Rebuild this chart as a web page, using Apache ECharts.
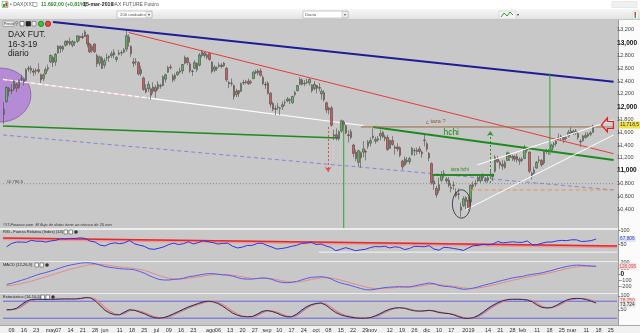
<!DOCTYPE html>
<html><head><meta charset="utf-8">
<script src="https://cdn.jsdelivr.net/npm/echarts@6/dist/echarts.min.js"></script>
<style>
html,body{margin:0;padding:0;width:640px;height:333px;overflow:hidden;background:#fff}
.a{position:absolute;box-sizing:border-box}
</style></head><body>
<div class="a" style="left:0;top:0;width:640px;height:9px;background:#fff"></div>
<div class="a" style="left:0;top:9px;width:640px;height:11px;background:linear-gradient(#f7f7f7,#e3e3e3);border-bottom:1px solid #c4c4c4"></div>
<div class="a" style="left:0;top:20px;width:618px;height:305px;background:#c8c8c8"></div>
<div class="a" style="left:618px;top:20px;width:22px;height:305px;background:#fbfbfb;border-left:1px solid #9c9c9c"></div>
<div class="a" style="left:0;top:325px;width:640px;height:8px;background:#f1f1f1;border-top:1px solid #a8a8a8"></div>
<div class="a" style="left:0;top:228px;width:618px;height:1.5px;background:#ececec"></div>
<div class="a" style="left:0;top:260.5px;width:618px;height:1.5px;background:#ececec"></div>
<div class="a" style="left:0;top:292.5px;width:618px;height:1.5px;background:#ececec"></div>
<div id="c" class="a" style="left:0;top:0;width:640px;height:333px"></div>
<script>
// ---- daily candles: [day, open, close, low, high] ----
const apr18 = [[4,11880,11960,11730,12070],[5,12080,12300,12060,12320],[6,12290,12240,12160,12310],[9,12250,12260,12200,12360],[10,12280,12400,12250,12420],[11,12350,12290,12230,12370],[12,12300,12410,12280,12430],[13,12430,12440,12400,12500],[16,12420,12390,12330,12440],[17,12420,12580,12400,12600],[18,12600,12590,12550,12640],[19,12600,12570,12520,12640],[20,12560,12540,12480,12600],[23,12560,12570,12500,12600],[24,12580,12550,12520,12680],[25,12500,12420,12370,12520],[26,12440,12500,12400,12520],[27,12520,12580,12500,12620],[30,12590,12610,12550,12660]];
const may18 = [[2,12700,12800,12680,12820],[3,12770,12690,12620,12800],[4,12700,12820,12640,12840],[7,12840,12950,12830,12960],[8,12940,12910,12840,12960],[9,12900,12940,12860,12960],[10,12960,13020,12940,13040],[11,13020,13000,12960,13040],[14,13020,12980,12960,13080],[15,12960,13020,12930,13040],[16,13000,13005,12950,13030],[17,13020,13110,13000,13120],[18,13100,13080,13030,13110],[21,13100,13080,13060,13150],[22,13100,13170,13090,13200],[23,13120,12980,12930,13130],[24,12980,12860,12840,13000],[25,12880,12940,12840,12970],[28,12980,12860,12840,12990],[29,12800,12670,12620,12830],[30,12680,12780,12640,12800],[31,12760,12600,12590,12790]];
const jun18 = [[1,12650,12720,12600,12760],[4,12760,12770,12720,12830],[5,12770,12790,12700,12800],[6,12800,12830,12760,12870],[7,12850,12810,12760,12900],[8,12740,12770,12700,12790],[11,12820,12840,12800,12890],[12,12840,12845,12800,12880],[13,12850,12890,12840,12920],[14,12900,13110,12860,13190],[15,13090,13010,12940,13130],[18,12940,12830,12780,12960],[19,12700,12680,12620,12760],[20,12700,12705,12650,12760],[21,12690,12510,12490,12710],[22,12520,12580,12480,12640],[25,12450,12270,12250,12470],[26,12280,12230,12210,12350],[27,12280,12350,12230,12400],[28,12280,12180,12110,12300],[29,12240,12310,12200,12380]];
const jul18 = [[2,12300,12240,12140,12340],[3,12280,12350,12250,12400],[4,12330,12320,12280,12360],[5,12330,12470,12320,12490],[6,12430,12500,12380,12520],[9,12540,12610,12530,12640],[10,12620,12610,12580,12660],[11,12480,12420,12380,12510],[12,12440,12490,12400,12520],[13,12500,12540,12480,12560],[16,12540,12560,12520,12610],[17,12560,12660,12510,12670],[18,12680,12770,12660,12800],[19,12760,12690,12650,12780],[20,12670,12560,12530,12700],[23,12550,12555,12480,12580],[24,12600,12690,12590,12730],[25,12680,12580,12540,12690],[26,12650,12810,12630,12840],[27,12800,12860,12770,12890],[30,12840,12800,12770,12860],[31,12770,12810,12740,12830]];
const aug18 = [[1,12830,12740,12720,12850],[2,12700,12550,12520,12710],[3,12570,12620,12540,12650],[6,12600,12605,12560,12630],[7,12630,12650,12610,12690],[8,12650,12630,12600,12680],[9,12640,12680,12620,12700],[10,12600,12420,12390,12620],[13,12380,12360,12290,12400],[14,12370,12365,12320,12440],[15,12330,12160,12110,12350],[16,12190,12240,12150,12280],[17,12250,12210,12150,12260],[20,12240,12360,12230,12380],[21,12370,12380,12340,12420],[22,12390,12380,12350,12420],[23,12400,12360,12340,12440],[24,12380,12390,12350,12420],[27,12440,12540,12430,12560],[28,12550,12530,12510,12580],[29,12530,12560,12490,12590],[30,12560,12490,12470,12600],[31,12460,12360,12340,12490]];
const sep18 = [[3,12350,12340,12280,12390],[4,12370,12210,12190,12400],[5,12210,12040,11990,12230],[6,12050,11960,11930,12080],[7,11970,11960,11870,12020],[10,11990,11995,11950,12060],[11,11980,11970,11870,12000],[12,12000,12030,11950,12080],[13,12060,12065,12010,12110],[14,12090,12120,12070,12150],[17,12110,12100,12040,12140],[18,12060,12160,12050,12170],[19,12190,12220,12160,12250],[20,12250,12330,12240,12340],[21,12350,12430,12340,12460],[24,12420,12350,12330,12440],[25,12360,12370,12320,12420],[26,12390,12380,12350,12440],[27,12370,12430,12330,12440],[28,12340,12250,12220,12350]];
const oct18 = [[1,12280,12350,12260,12400],[2,12330,12290,12210,12340],[3,12300,12290,12240,12370],[4,12200,12240,12110,12280],[5,12220,12110,12080,12260],[8,12060,11950,11900,12080],[9,11950,11980,11880,12000],[10,11980,11710,11690,12010],[11,11560,11540,11480,11640],[12,11560,11520,11470,11660],[15,11500,11610,11470,11630],[16,11620,11780,11590,11800],[17,11760,11720,11660,11790],[18,11700,11590,11570,11720],[19,11560,11550,11440,11630],[22,11610,11520,11490,11650],[23,11400,11270,11210,11420],[24,11290,11190,11150,11330],[25,11130,11310,11060,11330],[26,11280,11200,11050,11300],[29,11290,11340,11210,11460],[30,11300,11290,11160,11330],[31,11380,11450,11340,11480]];
const nov18 = [[1,11430,11470,11380,11520],[2,11540,11520,11490,11660],[5,11460,11490,11420,11530],[6,11500,11480,11450,11540],[7,11540,11580,11470,11640],[8,11600,11530,11510,11620],[9,11500,11530,11460,11560],[12,11520,11330,11310,11560],[13,11350,11470,11340,11490],[14,11470,11410,11390,11540],[15,11370,11350,11250,11400],[16,11370,11340,11300,11430],[19,11360,11240,11210,11380],[20,11150,11060,11010,11170],[21,11090,11180,11070,11220],[22,11160,11140,11110,11210],[23,11140,11190,11100,11220],[26,11250,11350,11240,11370],[27,11310,11315,11230,11350],[28,11320,11300,11250,11360],[29,11340,11300,11260,11380],[30,11290,11260,11200,11310]];
const dec18 = [[3,11480,11470,11380,11560],[4,11420,11340,11300,11450],[5,11270,11200,11150,11290],[6,11110,10810,10780,11130],[7,10840,10790,10700,10930],[10,10720,10620,10580,10760],[11,10690,10780,10650,10890],[12,10850,10930,10820,10990],[13,10960,10920,10880,11010],[14,10840,10870,10800,10900],[17,10850,10770,10740,10900],[18,10720,10740,10660,10800],[19,10770,10775,10700,10830],[20,10660,10610,10580,10720],[21,10630,10635,10550,10720],[27,10430,10380,10280,10500],[28,10450,10560,10430,10600]];
const jan19 = [[2,10520,10580,10390,10600],[3,10540,10420,10380,10590],[4,10510,10770,10500,10790],[7,10780,10750,10700,10830],[8,10790,10800,10750,10860],[9,10840,10890,10820,10950],[10,10840,10920,10810,10940],[11,10920,10890,10840,10960],[14,10840,10860,10810,10900],[15,10850,10890,10810,10920],[16,10920,10930,10870,11000],[17,10910,10920,10840,10960],[18,10990,11210,10970,11240],[21,11180,11140,11120,11230],[22,11130,11090,11030,11160],[23,11100,11070,11010,11170],[24,11050,11130,11030,11160],[25,11160,11280,11150,11300],[28,11250,11210,11150,11280],[29,11200,11220,11150,11250],[30,11220,11180,11140,11240],[31,11220,11170,11130,11260]];
const feb19 = [[1,11150,11180,11090,11210],[4,11160,11180,11130,11210],[5,11190,11370,11180,11400],[6,11350,11320,11280,11370],[7,11290,10990,10960,11300],[8,10960,10910,10860,10980],[11,10960,11010,10940,11060],[12,11040,11130,11030,11150],[13,11160,11170,11120,11230],[14,11160,11090,11060,11180],[15,11120,11300,11090,11320],[18,11300,11310,11260,11340],[19,11300,11310,11250,11340],[20,11320,11400,11300,11420],[21,11410,11420,11350,11450],[22,11420,11460,11380,11480],[25,11510,11515,11480,11580],[26,11520,11540,11470,11560],[27,11520,11490,11430,11530],[28,11500,11520,11470,11560]];
const mar19 = [[1,11540,11600,11520,11640],[4,11620,11590,11560,11680],[5,11590,11620,11560,11640],[6,11620,11590,11560,11650],[7,11580,11520,11480,11620],[8,11450,11460,11370,11490],[11,11470,11540,11450,11560],[12,11550,11520,11500,11600],[13,11540,11570,11520,11600],[14,11570,11590,11540,11620],[15,11600,11692,11590,11720]];
const futureDays = ['2019-03-18','2019-03-19','2019-03-20','2019-03-21','2019-03-22','2019-03-25','2019-03-26','2019-03-27'];

// ---- x tick labels ----
const tickDates = ['2018-04-09','2018-04-16','2018-04-23','2018-05-02','2018-05-07','2018-05-14','2018-05-21','2018-05-28','2018-06-01','2018-06-11','2018-06-18','2018-06-25','2018-07-02','2018-07-09','2018-07-16','2018-07-23','2018-08-01','2018-08-06','2018-08-13','2018-08-20','2018-08-27','2018-09-03','2018-09-10','2018-09-17','2018-09-24','2018-10-01','2018-10-08','2018-10-15','2018-10-22','2018-10-29','2018-11-01','2018-11-12','2018-11-19','2018-11-26','2018-12-03','2018-12-10','2018-12-17','2019-01-02','2019-01-14','2019-01-21','2019-01-28','2019-02-01','2019-02-11','2019-02-18','2019-02-25','2019-03-01','2019-03-11','2019-03-18','2019-03-25'];
const tickTexts = ['09','16','23','may','07','14','21','28','jun','11','18','25','jul','09','16','23','ago','06','13','20','27','sep','10','17','24','oct','08','15','22','29','nov','12','19','26','dic','10','17','2019','14','21','28','feb','11','18','25','mar','11','18','25'];
const priceTicks = [10400,10600,10800,11000,11200,11400,11600,11800,12000,12200,12400,12600,12800,13000,13200];
const rsiTicks = [50,100];
const macdTicks = [-200,-100,0,100,200];
const stochTicks = [50,100];

// ---- indicators, sampled every 2nd session (sessions 1,3,5,...,241) ----
const rsi = [40,52,57,57,56,63,60,60,57,61, 63,69,68,70,70,72,70,60,57,46, 43,51,54,51,54,63,51,46,42,33, 31,35,40,48,53,48,51,58,50,55, 62,58,55,50,52,53,42,36,39,45, 45,52,53,45,39,32,34,37,42,45, 52,53,57,48,50,43,38,26,31,37, 32,26,29,31,37,41,40,42,36,40, 38,30,34,42,41,40,44,32,28,38, 37,34,31,27,36,44,45,49,47,50, 59,54,56,58,56,56,61,47,48,53, 57,57,61,63,62,65,65,59,60,62, 67.8];
const macd = [-175,-155,-130,-105,-80,-50,-20,5,25,50, 75,105,130,150,165,180,188,185,172,150, 125,110,100,90,82,80,70,45,15,-25, -60,-90,-100,-100,-90,-85,-70,-45,-35,-20, -5,5,5,-5,-15,-20,-35,-60,-80,-85, -85,-75,-65,-70,-90,-120,-140,-145,-140,-125, -100,-75,-55,-50,-45,-55,-80,-120,-150,-170, -190,-215,-240,-260,-265,-255,-240,-225,-220,-215, -210,-215,-215,-200,-180,-165,-150,-160,-190,-205, -210,-220,-240,-255,-250,-235,-215,-190,-170,-150, -125,-105,-85,-65,-50,-40,-20,-5,5,20, 40,60,85,105,125,140,148,146,138,132, 128];
const macdSignal = [-200,-190,-175,-160,-140,-120,-95,-70,-45,-20, 5,30,55,80,100,120,140,155,162,160, 152,140,128,118,108,100,92,80,60,35, 5,-25,-50,-70,-80,-85,-82,-72,-60,-48, -35,-20,-10,-5,-7,-12,-20,-32,-48,-62, -72,-76,-74,-72,-78,-92,-110,-125,-133,-133, -125,-110,-92,-78,-65,-60,-65,-80,-102,-125, -148,-170,-192,-215,-233,-243,-245,-240,-234,-228, -222,-220,-218,-213,-203,-190,-177,-170,-175,-185, -195,-205,-218,-232,-240,-240,-233,-220,-203,-185, -165,-145,-125,-105,-85,-68,-50,-35,-20,-5, 10,28,48,68,88,105,118,127,131,132, 132];
const stochK = [50,50,55,68,80,86,87,87,86,87, 87,88,88,88,88,90,93,92,82,65, 48,38,32,32,42,50,48,42,36,28, 22,20,22,28,36,44,52,60,66,72, 78,80,78,72,62,50,38,30,26,25, 26,34,44,47,44,38,30,25,25,34, 48,60,68,72,74,66,52,40,32,27, 24,21,20,20,22,28,36,45,52,56, 57,55,50,46,45,46,48,45,40,38, 36,32,25,20,19,22,30,42,55,66, 75,82,86,87,87,86,84,78,66,58, 56,58,66,76,84,89,90,89,86,80, 73.7];
const stochD = [48,50,52,60,72,82,86,87,87,86, 87,87,88,88,88,88,91,93,88,75, 58,45,36,32,36,46,49,46,40,33, 26,22,20,24,31,39,47,55,62,68, 74,79,80,76,68,57,45,35,28,25, 25,29,38,46,46,42,35,28,25,28, 40,54,64,70,73,71,60,47,37,30, 26,23,21,20,21,25,31,40,48,54, 57,56,53,48,45,45,47,47,43,39, 37,34,29,23,20,20,25,35,48,60, 70,78,84,86,87,87,85,81,72,62, 57,57,62,70,80,86,88,90,88,84, 78.3];

// ---- drawn studies: [session index, price] ----
const blueLine = [[20,13325],[249.5,12390]];
const redLine = [[51,13160],[249.5,11265]];
const whiteChannelDashed = [[-0.5,12428],[60,12131]];
const whiteChannel = [[60,12131],[147,11706]];
const greenBase = [[-0.5,11698],[137,11511]];
const hchiLine = [[151,11683],[249.5,11167]];
const cupRim = [[146,11683],[249.5,11683]];
const lavenderLine = [[-0.5,11558],[249.5,10698]];
const dottedLevel = [[-0.5,10796.5],[249.5,10796.5]];
const orangeLevel = [[191,10698],[249.5,10698]];
const tazaNeck = [[175.4,10932],[200.6,10932]];
const riseUpper = [[193.7,11089],[249.5,11792]];
const riseLower = [[188.8,10385],[249.5,11558]];
const greenVert1 = [[139,11730],[139,10103]];
const greenVert2 = [[223.4,12527],[223.4,11245]];
const greenArrow = [[199,10807],[199,11621]];
const redArrow = [[132.6,11683],[132.6,10979]];
const rsiTrend = [[-0.5,71.4],[249.5,42.9]];
const rsiTrendShade = [[-0.5,68.6],[249.5,40.1]];
const rsiFloor = [[128,21],[249.5,21]];
const stochLevels = [20,80];
const lastPrice = 11714, lastRsi = 67.806, lastMacd = 128, lastK = 73.724, lastD = 78.3;

// ---- build ----
const FONT = '"Liberation Sans", Arial, sans-serif';
const pad = n => String(n).padStart(2,'0');
const cats = [], ohlc = [];
[[2018,4,apr18],[2018,5,may18],[2018,6,jun18],[2018,7,jul18],[2018,8,aug18],[2018,9,sep18],[2018,10,oct18],[2018,11,nov18],[2018,12,dec18],[2019,1,jan19],[2019,2,feb19],[2019,3,mar19]]
  .forEach(([y,m,rows]) => rows.forEach(r => { cats.push(y+'-'+pad(m)+'-'+pad(r[0])); ohlc.push([r[1],r[2],r[3],r[4]]); }));
futureDays.forEach(d => cats.push(d));
const tickMap = new Map(tickDates.map((d,i)=>[d,tickTexts[i]]));
const samp = arr => arr.map((v,j)=>[2*j+1, v]);
const fmtK = v => String(v).replace(/\B(?=(\d{3})+(?!\d))/g, ',');

const chart = echarts.init(document.getElementById('c'));
const grids = [
  {left:3,right:23,top:20,height:208},
  {left:3,right:23,top:229,height:31},
  {left:3,right:23,top:262,height:30},
  {left:3,right:23,top:294,height:31}];
const cat = (g, lab) => ({type:'category', gridIndex:g, data:cats, boundaryGap:true,
  axisLine:{show:false}, axisTick:{show:false}, splitLine:{show:false},
  axisLabel: lab ? {show:true, interval:(i,v)=>tickMap.has(v), formatter:v=>tickMap.get(v)||'', fontSize:5.5, color:'#333', margin:2, fontFamily:FONT} : {show:false}});
const valX = g => ({type:'value', gridIndex:g, min:-0.5, max:249.5, show:false});
const yax = (g,min,max,ticks,fmt) => ({type:'value', gridIndex:g, position:'right', min, max,
  axisLine:{show:false}, splitLine:{show:false}, minorTick:{show:false},
  axisTick:{show:false},
  axisLabel:{show:true, customValues:ticks, fontSize:5.5, color:'#444', margin:3.5, fontFamily:FONT, formatter:fmt,
    rich:{b:{fontSize:6.5, fontWeight:'bold', color:'#111', fontFamily:FONT}}}});
const L = (data, color, width, type, xi, yi, z) => ({type:'line', xAxisIndex:xi===undefined?4:xi, yAxisIndex:yi||0, data, symbol:'none', showSymbol:false, silent:true, z:z||3, clip:true,
  lineStyle:{color, width, type:type||'solid'}});

const series = [
  L(lavenderLine,'#8484d6',1,[4,3]),
  L(dottedLevel,'#8a8a8a',1,[1,2]),
  L(greenBase,'#1f8a1f',1.5),
  L(whiteChannelDashed,'#f0d0d0',1.2),
  L(whiteChannelDashed,'#ffffff',1.2,[4,3]),
  L(whiteChannel,'#ffffff',1.2),
  {type:'candlestick', xAxisIndex:0, yAxisIndex:0, data:ohlc, barWidth:2, z:4, silent:true,
   itemStyle:{color:'#5fb55f', color0:'#d65a5a', borderColor:'#4a4a4a', borderColor0:'#4a4a4a', borderWidth:0.6}},
  L(blueLine,'#1d1d96',2,null,4,0,5),
  L(redLine,'#e23c3c',1,null,4,0,5),
  L(hchiLine,'#1f8a1f',2,null,4,0,5),
  L(cupRim,'#9a6a45',1,null,4,0,5),
  L(orangeLevel,'#e8924c',1,[4,3],4,0,5),
  L(tazaNeck,'#2a8a2a',2,null,4,0,5),
  L(riseUpper,'#ffffff',1,null,4,0,5),
  L(riseLower,'#ffffff',1,null,4,0,5),
  L(greenVert1,'#35a035',1,null,4,0,5),
  L(greenVert2,'#35a035',1,null,4,0,5),
  {type:'line', xAxisIndex:4, yAxisIndex:0, data:[], z:6, silent:true,
   markLine:{silent:true, animation:false, symbol:['none','arrow'], symbolSize:5, label:{show:false},
     data:[[{coord:greenArrow[0], lineStyle:{color:'#2a9a2a', type:[2,2], width:1}},{coord:greenArrow[1]}],
           [{coord:redArrow[0], lineStyle:{color:'#e05050', type:[2,2], width:1}},{coord:redArrow[1]}]]}},
  // RSI
  L(rsiFloor,'#f4f4f4',1,null,5,1,2),
  L(rsiTrendShade,'rgba(236,150,150,0.9)',3,null,5,1,3),
  L(rsiTrend,'#e22a2a',1.5,null,5,1,4),
  L(samp(rsi),'#3232e6',1,null,1,1,5),
  // MACD
  L(samp(macdSignal),'#e48a84',1,null,2,2,3),
  L(samp(macd),'#5a5ae8',1,null,2,2,4),
  // Stochastic
  L([[-0.5,stochLevels[1]],[249.5,stochLevels[1]]],'#6464e4',1,null,7,3,2),
  L([[-0.5,stochLevels[0]],[249.5,stochLevels[0]]],'#6464e4',1,null,7,3,2),
  {type:'line', xAxisIndex:3, yAxisIndex:3, stack:'st', data:samp(stochK.map((k,j)=>Math.min(k,stochD[j]))), symbol:'none', silent:true, lineStyle:{width:0, opacity:0}, z:3},
  {type:'line', xAxisIndex:3, yAxisIndex:3, stack:'st', data:samp(stochK.map((k,j)=>Math.max(k-stochD[j],0))), symbol:'none', silent:true, lineStyle:{width:0, opacity:0}, areaStyle:{color:'#8a8ad0', opacity:1}, z:3},
  {type:'line', xAxisIndex:3, yAxisIndex:3, stack:'st', data:samp(stochK.map((k,j)=>Math.max(stochD[j]-k,0))), symbol:'none', silent:true, lineStyle:{width:0, opacity:0}, areaStyle:{color:'#e6a4a4', opacity:1}, z:3},
  L(samp(stochD),'#e07474',1,null,3,3,4),
  L(samp(stochK),'#2c2c5c',1,null,3,3,5)
];

chart.setOption({
  animation:false,
  grid:grids,
  xAxis:[cat(0),cat(1),cat(2),cat(3,true),valX(0),valX(1),valX(2),valX(3)],
  yAxis:[
    yax(0,10103,13356,priceTicks,v=> v%1000===0 ? '{b|'+fmtK(v)+'}' : fmtK(v)),
    yax(1,-7.1,103.6,rsiTicks,v=>String(v)),
    yax(2,-300,200,macdTicks,v=> v===0 ? '{b|0}' : String(v)),
    yax(3,-4,105.5,stochTicks,v=>String(v))
  ],
  series
});

// ---- annotations placed from data coordinates ----
const P = (i,v) => chart.convertToPixel({xAxisIndex:4, yAxisIndex:0}, [i,v]);
const Y = (ax,v) => chart.convertToPixel({yAxisIndex:ax}, v);
const purpleC = P(-1.7,12183), purpleE = P(10.9,12605);
const ellC = P(187.2,10479), ellE = P(190.9,10700);
const tip = P(244.5, 11714);
const t = (x,y,text,opt) => ({type:'text', x, y, silent:true, z:30, style:Object.assign({text, fontFamily:FONT, fontSize:5, fill:'#222', verticalAlign:'middle'}, opt||{})});
const box = (x,y,w,h,fill,stroke) => ({type:'rect', silent:true, z:30, shape:{x,y,width:w,height:h}, style:{fill:fill||'#fff', stroke:stroke||'#999', lineWidth:0.6}});
const tick = (ax,v) => { const y = Math.round(Y(ax,v))+0.5; return {type:'line', silent:true, z:30, shape:{x1:618,y1:y,x2:620.5,y2:y}, style:{stroke:'#777', lineWidth:0.8}}; };
const taza = P(176.6,11769), hchi = P(183,11589), tazaH = P(186.5,11010), lvl = P(1,10830);

const graphic = [
  ...priceTicks.map(v=>tick(0,v)), ...rsiTicks.map(v=>tick(1,v)), ...macdTicks.filter(v=>v<200).map(v=>tick(2,v)), ...stochTicks.map(v=>tick(3,v)),
  {type:'ellipse', silent:true, z:1, shape:{cx:purpleC[0], cy:purpleC[1], rx:purpleE[0]-purpleC[0], ry:purpleC[1]-purpleE[1]}, style:{fill:'rgba(176,128,214,0.85)', stroke:'#8a5aa8', lineWidth:0.8}},
  {type:'ellipse', silent:true, z:30, shape:{cx:ellC[0], cy:ellC[1], rx:ellE[0]-ellC[0], ry:ellC[1]-ellE[1]}, style:{fill:'none', stroke:'#222', lineWidth:0.8}},
  {type:'polygon', silent:true, z:30, shape:{points:[[tip[0],tip[1]],[tip[0]+6,tip[1]-7],[tip[0]+6,tip[1]-3.5],[tip[0]+12,tip[1]-3.5],[tip[0]+12,tip[1]+3.5],[tip[0]+6,tip[1]+3.5],[tip[0]+6,tip[1]+7]]}, style:{fill:'rgba(255,255,255,0.15)', stroke:'#e02020', lineWidth:1.2}},
  t(taza[0],taza[1],'¿ taza ?',{fill:'#8a5a3a', fontSize:5.5, align:'center'}),
  t(hchi[0],hchi[1],'hchi',{fill:'#1f8a1f', fontSize:8.5, align:'center'}),
  t(tazaH[0],tazaH[1],'taza hchi',{fill:'#2a8a2a', fontSize:4.5, align:'center'}),
  t(lvl[0],lvl[1],'10.796,5',{fill:'#444', fontSize:4.2}),
  // value boxes on right axis
  t(619,Y(0,lastPrice),fmtK(11718)+',5',{fill:'#333', fontSize:5, backgroundColor:'#f2e24a', padding:[1,1]}),
  t(619,Y(1,lastRsi),'67,806',{fill:'#3a3ad0', fontSize:4.8, backgroundColor:'#dfe4f6', padding:[0.5,1]}),
  t(619,Y(2,lastMacd),'128,095',{fill:'#d05050', fontSize:4.6, backgroundColor:'#f6e0e0', padding:[0.5,0.5]}),
  t(619,Y(3,lastD)-1,'78,250',{fill:'#d05050', fontSize:4.8, backgroundColor:'#f6e0e0', padding:[0.5,1]}),
  t(619,Y(3,lastK)+1.5,'73,724',{fill:'#333', fontSize:4.8, backgroundColor:'#e8e8e8', padding:[0.5,1]}),
  // top bar
  box(2,1.5,6,6,'#e8f4e8','#6a6'),
  {type:'rect', silent:true, z:31, shape:{x:3,y:4,width:2,height:3}, style:{fill:'#3a3'}},
  {type:'rect', silent:true, z:31, shape:{x:5.5,y:2.5,width:2,height:4}, style:{fill:'#d33'}},
  t(10,4.8,'• DAX(XXX)',{fill:'#555', fontSize:5}),
  box(33,2.5,4,4,'#fff','#888'),
  t(41,4.8,'11.692,00 (+0,81%)',{fill:'#2e8b2e', fontSize:5.2, fontWeight:'bold'}),
  t(83,4.8,'15-mar-2019',{fill:'#222', fontSize:5.2, fontWeight:'bold'}),
  t(111,4.8,'DAX FUTURE Futuro',{fill:'#555', fontSize:5}),
  box(117,11,35,7,'#fff','#aaa'), t(120,14.6,'200 unidades',{fill:'#555', fontSize:4.3}),
  box(146,11.5,6,6,'#eee','#bbb'), t(147.2,14.6,'▼',{fill:'#555', fontSize:3.5}),
  box(303,11,45,7,'#fff','#aaa'), t(305,14.6,'Diario',{fill:'#555', fontSize:4.3}),
  box(342,11.5,6,6,'#eee','#bbb'), t(343.2,14.6,'▼',{fill:'#555', fontSize:3.5}),
  box(499,11,17,8,'#f4f4f4','#ccc'),
  {type:'polyline', silent:true, z:31, shape:{points:[[501,17],[504,13],[507,16],[510,12],[513,15]]}, style:{stroke:'#2a9a2a', lineWidth:1, fill:'none'}},
  t(517,14.6,'▾',{fill:'#444', fontSize:4}),
  box(633,11,5,8,'#fff','#ccc'),
  {type:'rect', silent:true, z:31, shape:{x:634.5,y:12,width:1.5,height:3}, style:{fill:'#d33'}},
  {type:'rect', silent:true, z:31, shape:{x:634.5,y:15,width:1.5,height:3}, style:{fill:'#3a3'}},
  box(612,1.5,25,6,'#f0f0f0','#ddd'),
  // main panel captions
  box(3,21,11,5.5,'#eaeaea','#888'), t(4,23.9,'Precio',{fill:'#333', fontSize:3.6}),
  t(15,23.9,'⚲',{fill:'#555', fontSize:4.5}),
  box(20,21.5,4,4.5,'#fff','#444'), box(26,21.5,4.5,4.5,'#222','#222'), box(32,21.5,4,4.5,'#eee','#666'),
  {type:'circle', silent:true, z:31, shape:{cx:41,cy:23.8,r:2.6}, style:{fill:'#3c3', stroke:'#282'}},
  {type:'circle', silent:true, z:31, shape:{cx:48,cy:23.8,r:2.6}, style:{fill:'#e44', stroke:'#a22'}},
  t(8,35,'DAX FUT.',{fill:'#222', fontSize:8.5}),
  t(8,44.5,'16-3-19',{fill:'#222', fontSize:8.5}),
  t(8,54,'diario',{fill:'#222', fontSize:8.5}),
  t(3,225.3,'©IT-Finance.com  El flujo de datos tiene un retraso de 15 min',{fill:'#333', fontSize:4, fontStyle:'italic'}),
  // indicator captions
  t(3,232.3,'RSI - Fuerza Relativa (Index) (14)',{fill:'#222', fontSize:4}),
  box(64,230,3.5,4,'#fff','#555'), box(69,230,3.5,4,'#fff','#555'), {type:'circle', silent:true, z:31, shape:{cx:76,cy:232,r:1.8}, style:{fill:'#333'}},
  t(3,265.3,'MACD (12-26-9)',{fill:'#222', fontSize:4}),
  box(35,263,3.5,4,'#fff','#555'), box(40,263,3.5,4,'#fff','#555'), {type:'circle', silent:true, z:31, shape:{cx:47,cy:265,r:1.8}, style:{fill:'#333'}},
  t(3,297.3,'Estocástico (14-10-5)',{fill:'#222', fontSize:4}),
  box(41,295,3.5,4,'#fff','#555'), box(46,295,3.5,4,'#fff','#555'), {type:'circle', silent:true, z:31, shape:{cx:53,cy:297,r:1.8}, style:{fill:'#333'}}
];
chart.setOption({graphic});
</script>
</body></html>
